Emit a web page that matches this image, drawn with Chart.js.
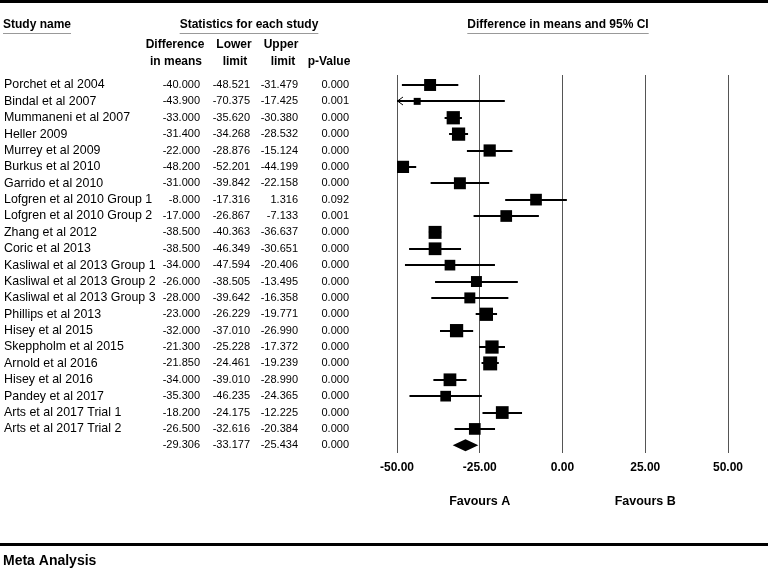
<!DOCTYPE html>
<html>
<head>
<meta charset="utf-8">
<script src="https://cdn.jsdelivr.net/npm/chart.js@4.4.1/dist/chart.umd.min.js"></script>
<style>
  html, body { margin: 0; padding: 0; background: #fff; }
  canvas { display: block; }
</style>
</head>
<body>
<canvas id="forest" width="768" height="571"></canvas>
<script>
const studyNames = [
  'Porchet et al 2004', 'Bindal et al 2007', 'Mummaneni et al 2007', 'Heller 2009',
  'Murrey et al 2009', 'Burkus et al 2010', 'Garrido et al 2010', 'Lofgren et al 2010 Group 1',
  'Lofgren et al 2010 Group 2', 'Zhang et al 2012', 'Coric et al 2013', 'Kasliwal et al 2013 Group 1',
  'Kasliwal et al 2013 Group 2', 'Kasliwal et al 2013 Group 3', 'Phillips et al 2013', 'Hisey et al 2015',
  'Skeppholm et al 2015', 'Arnold et al 2016', 'Hisey et al 2016', 'Pandey et al 2017',
  'Arts et al 2017 Trial 1', 'Arts et al 2017 Trial 2'
];
const diffMeans = [-40.000, -43.900, -33.000, -31.400, -22.000, -48.200, -31.000, -8.000, -17.000, -38.500, -38.500,
  -34.000, -26.000, -28.000, -23.000, -32.000, -21.300, -21.850, -34.000, -35.300, -18.200, -26.500];
const lowerLimits = [-48.521, -70.375, -35.620, -34.268, -28.876, -52.201, -39.842, -17.316, -26.867, -40.363, -46.349,
  -47.594, -38.505, -39.642, -26.229, -37.010, -25.228, -24.461, -39.010, -46.235, -24.175, -32.616];
const upperLimits = [-31.479, -17.425, -30.380, -28.532, -15.124, -44.199, -22.158, 1.316, -7.133, -36.637, -30.651,
  -20.406, -13.495, -16.358, -19.771, -26.990, -17.372, -19.239, -28.990, -24.365, -12.225, -20.384];
const pValues = [0.000, 0.001, 0.000, 0.000, 0.000, 0.000, 0.000, 0.092, 0.001, 0.000, 0.000,
  0.000, 0.000, 0.000, 0.000, 0.000, 0.000, 0.000, 0.000, 0.000, 0.000, 0.000];
// relative weights (%)
const studyWeight = [4.4, 1.5, 5.4, 5.4, 4.6, 4.6, 4.4, 4.2, 4.2, 5.2, 5.0,
  3.5, 3.7, 3.7, 5.4, 5.4, 5.4, 6.0, 5.0, 3.5, 5.0, 4.2];
const summary = { diff: -29.306, lower: -33.177, upper: -25.434, p: 0.000 };
const xTicks = [-50, -25, 0, 25, 50];

const FONT = '"Liberation Sans", Arial, Helvetica, sans-serif';

function boxSide(w) {
  return 5.7 * Math.sqrt(w);
}

function txt(ctx, s, x, y, align, font) {
  ctx.font = font;
  ctx.textAlign = align;
  ctx.textBaseline = 'middle';
  ctx.fillText(s, x, y);
}

const tablePlugin = {
  id: 'table',
  beforeDatasetsDraw(chart) {
    const ctx = chart.ctx;
    const xs = chart.scales.x, ys = chart.scales.y;
    ctx.save();
    ctx.strokeStyle = '#000';
    for (let i = 0; i < diffMeans.length; i++) {
      const y = Math.round(ys.getPixelForValue(i));
      const lo = Math.max(lowerLimits[i], xs.min);
      const hi = Math.min(upperLimits[i], xs.max);
      const x0 = xs.getPixelForValue(lo);
      const x1 = xs.getPixelForValue(hi);
      ctx.lineWidth = 2;
      ctx.beginPath();
      ctx.moveTo(x0, y);
      ctx.lineTo(x1, y);
      ctx.stroke();
      if (lowerLimits[i] < xs.min) {
        ctx.lineWidth = 1;
        ctx.beginPath();
        ctx.moveTo(x0 + 6, y - 4);
        ctx.lineTo(x0 + 0.5, y);
        ctx.lineTo(x0 + 6, y + 4);
        ctx.stroke();
      }
    }
    ctx.restore();
  },
  afterDatasetsDraw(chart) {
    const ctx = chart.ctx;
    const xs = chart.scales.x, ys = chart.scales.y;
    // summary diamond
    const y = ys.getPixelForValue(diffMeans.length);
    ctx.save();
    ctx.fillStyle = '#000';
    ctx.beginPath();
    ctx.moveTo(xs.getPixelForValue(summary.lower), y);
    ctx.lineTo(xs.getPixelForValue(summary.diff), y - 6);
    ctx.lineTo(xs.getPixelForValue(summary.upper), y);
    ctx.lineTo(xs.getPixelForValue(summary.diff), y + 6);
    ctx.closePath();
    ctx.fill();
    ctx.restore();
  },
  afterDraw(chart) {
    const ctx = chart.ctx;
    const xs = chart.scales.x, ys = chart.scales.y;
    ctx.save();
    ctx.fillStyle = '#000';

    // thick rules
    ctx.fillRect(0, 0, chart.width, 3);
    ctx.fillRect(0, 543, chart.width, 3);

    // headers
    const hb = 'bold 12px ' + FONT;
    const heads = [['Study name', 3, 'left'], ['Statistics for each study', 249, 'center'],
      ['Difference in means and 95% CI', 558, 'center']];
    ctx.strokeStyle = '#999';
    ctx.lineWidth = 1;
    heads.forEach(([s, x, a]) => {
      txt(ctx, s, x, 25, a, hb);
      const w = ctx.measureText(s).width;
      const left = a === 'left' ? x : x - w / 2;
      ctx.beginPath();
      ctx.moveTo(left, 33.5);
      ctx.lineTo(left + w, 33.5);
      ctx.stroke();
    });
    txt(ctx, 'Difference', 175, 45, 'center', hb);
    txt(ctx, 'in means', 176, 62, 'center', hb);
    txt(ctx, 'Lower', 234, 45, 'center', hb);
    txt(ctx, 'limit', 235, 62, 'center', hb);
    txt(ctx, 'Upper', 281, 45, 'center', hb);
    txt(ctx, 'limit', 283, 62, 'center', hb);
    txt(ctx, 'p-Value', 329, 62, 'center', hb);

    // rows
    const rn = '12.4px ' + FONT;
    const nn = '11px ' + FONT;
    for (let i = 0; i < studyNames.length; i++) {
      const y = ys.getPixelForValue(i);
      txt(ctx, studyNames[i], 4, y, 'left', rn);
      txt(ctx, diffMeans[i].toFixed(3), 200, y, 'right', nn);
      txt(ctx, lowerLimits[i].toFixed(3), 250, y, 'right', nn);
      txt(ctx, upperLimits[i].toFixed(3), 298, y, 'right', nn);
      txt(ctx, pValues[i].toFixed(3), 349, y, 'right', nn);
    }
    const ySum = ys.getPixelForValue(studyNames.length);
    txt(ctx, summary.diff.toFixed(3), 200, ySum, 'right', nn);
    txt(ctx, summary.lower.toFixed(3), 250, ySum, 'right', nn);
    txt(ctx, summary.upper.toFixed(3), 298, ySum, 'right', nn);
    txt(ctx, summary.p.toFixed(3), 349, ySum, 'right', nn);

    // favours labels
    const fb = 'bold 12.5px ' + FONT;
    txt(ctx, 'Favours A', xs.getPixelForValue(-25), 502, 'center', fb);
    txt(ctx, 'Favours B', xs.getPixelForValue(25), 502, 'center', fb);

    txt(ctx, 'Meta Analysis', 3, 561, 'left', 'bold 14px ' + FONT);
    ctx.restore();
  }
};

const ctx = document.getElementById('forest').getContext('2d');
new Chart(ctx, {
  type: 'scatter',
  data: {
    datasets: [{
      data: diffMeans.map((d, i) => ({ x: d, y: i })),
      pointStyle: 'rect',
      pointRadius: c => boxSide(studyWeight[c.dataIndex]) / Math.SQRT2,
      backgroundColor: '#000',
      borderWidth: 0,
    }]
  },
  options: {
    responsive: false,
    animation: false,
    events: [],
    layout: {
      padding: { left: 397, right: 40, top: 75, bottom: 88 }
    },
    scales: {
      x: {
        type: 'linear',
        min: -50,
        max: 50,
        afterBuildTicks: s => { s.ticks = xTicks.map(v => ({ value: v })); },
        afterFit: s => { s.height = 30; },
        ticks: {
          autoSkip: false,
          maxRotation: 0,
          padding: 7,
          color: '#000',
          font: { family: FONT, size: 12, weight: 'bold' },
          callback: v => v.toFixed(2),
        },
        grid: { color: '#555', lineWidth: 1, drawTicks: false },
        border: { display: false },
      },
      y: {
        display: false,
        reverse: true,
        min: -0.61,
        max: 22.47,
      }
    },
    plugins: {
      legend: { display: false },
      tooltip: { enabled: false },
    }
  },
  plugins: [tablePlugin]
});
</script>
</body>
</html>
